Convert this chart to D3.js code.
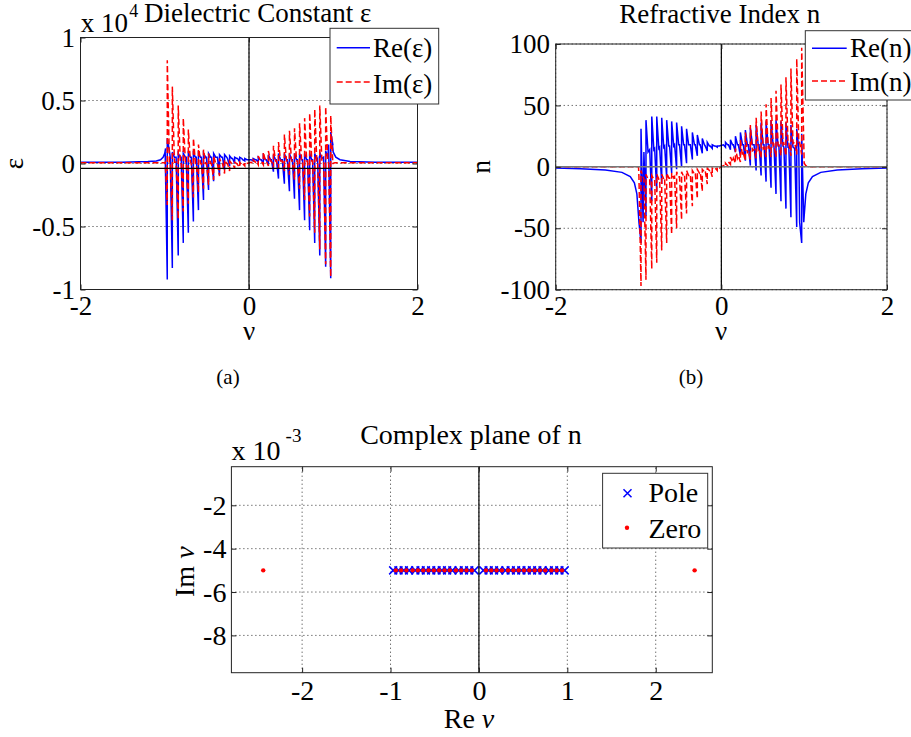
<!DOCTYPE html>
<html>
<head>
<meta charset="utf-8">
<script src="https://cdn.jsdelivr.net/npm/d3@7"></script>
<style>
  body { margin: 0; background: #fff; }
  .tx { font-family: "Liberation Serif"; }
</style>
</head>
<body>
<svg id="fig" width="911" height="737"></svg>
<script>
// ---- data ----
// resonance positions (nu) for the spikes, negative and positive side
const nuLeft  = [-0.97, -0.91, -0.84, -0.78, -0.72, -0.66, -0.60, -0.54, -0.48, -0.42, -0.35, -0.29, -0.23, -0.17, -0.11, -0.05];
const nuRight = [0.05, 0.11, 0.17, 0.23, 0.29, 0.35, 0.42, 0.48, 0.54, 0.60, 0.66, 0.72, 0.78, 0.84, 0.91, 0.97];

// (a) dielectric constant, units of 1e4
const reEpsTailLeftNu  = [-2, -1.5, -1.2, -1.1, -1.05, -1.02, -1.0, -0.99];
const reEpsTailLeft    = [0.01, 0.01, 0.015, 0.02, 0.03, 0.05, 0.08, 0.12];
const reEpsLeftHi  = [0.20, 0.09, 0.08, 0.08, 0.08, 0.08, 0.08, 0.08, 0.08, 0.08, 0.07, 0.07, 0.06, 0.05, 0.05, 0.04];
const reEpsLeftLo  = [-0.92, -0.83, -0.73, -0.63, -0.55, -0.46, -0.37, -0.29, -0.21, -0.14, -0.09, -0.05, -0.02, 0.0, 0.01, 0.02];
const reEpsLeftMid = [0.10, 0.05, 0.05, 0.05, 0.05, 0.05, 0.05, 0.05, 0.05, 0.05, 0.05, 0.05, 0.04, 0.04, 0.04, 0.03];
const reEpsRightHi  = [0.04, 0.05, 0.06, 0.07, 0.07, 0.08, 0.08, 0.08, 0.08, 0.08, 0.08, 0.08, 0.08, 0.09, 0.10, 0.25];
const reEpsRightLo  = [0.02, 0.01, 0.0, -0.01, -0.065, -0.12, -0.16, -0.22, -0.28, -0.37, -0.45, -0.53, -0.63, -0.73, -0.82, -0.91];
const reEpsRightMid = [0.03, 0.03, 0.03, 0.03, 0.03, 0.03, 0.03, 0.03, 0.03, 0.03, 0.03, 0.03, 0.03, 0.04, 0.05, 0.15];
const reEpsTailRightNu = [0.99, 1.0, 1.03, 1.08, 1.2, 1.5, 2];
const reEpsTailRight   = [0.15, 0.09, 0.05, 0.03, 0.015, 0.01, 0.01];

const imEpsTailLeftNu = [-2, -1.0];
const imEpsTailLeft   = [0.005, 0.005];
const imEpsLeftHi  = [0.82, 0.61, 0.46, 0.36, 0.27, 0.20, 0.15, 0.11, 0.08, 0.06, 0.04, 0.03, 0.02, 0.01, 0.01, 0.01];
const imEpsLeftLo  = [-0.33, -0.45, -0.44, -0.38, -0.32, -0.27, -0.23, -0.20, -0.17, -0.13, -0.10, -0.08, -0.06, -0.04, -0.03, -0.02];
const imEpsLeftMid = [0.01, 0.01, 0.01, 0.01, 0.01, 0.0, 0.0, 0.0, 0.0, 0.0, 0.0, 0.0, 0.0, 0.0, -0.01, 0.0];
const imEpsRightHi  = [0.03, 0.06, 0.09, 0.10, 0.14, 0.17, 0.23, 0.26, 0.28, 0.32, 0.36, 0.40, 0.43, 0.46, 0.45, 0.38];
const imEpsRightLo  = [0.0, -0.01, -0.01, -0.02, -0.03, -0.04, -0.06, -0.09, -0.13, -0.20, -0.29, -0.42, -0.55, -0.68, -0.80, -0.90];
const imEpsRightMid = [0.01, 0.02, 0.02, 0.02, 0.02, 0.02, 0.02, 0.02, 0.02, 0.02, 0.02, 0.02, 0.02, 0.02, 0.02, 0.0];
const imEpsTailRightNu = [0.99, 1.02, 2];
const imEpsTailRight   = [0.0, 0.005, 0.005];

const epsRefLine = -0.038; // black horizontal line in (a)

// (b) refractive index
const reNTailLeftNu = [-2, -1.7, -1.4, -1.2, -1.1, -1.05, -1.02, -1.0];
const reNTailLeft   = [-1, -1.5, -2.5, -4.5, -8, -13, -22, -40];
const reNLeftHi  = [31, 38, 41, 41, 40, 38, 37, 36, 33, 31, 28, 26, 23, 20, 18, 17];
const reNLeftLo  = [-62, -40, -28, -20, -14, -9, -5, -2, 0, 3, 6, 9, 11, 13, 15, 16];
const reNLeftMid = [-45, 12, 14, 15, 16, 17, 17, 18, 18, 18, 18, 18, 18, 17, 17, 17];
const reNRightHi  = [20, 22, 25, 28, 30, 32, 34, 36, 37, 38, 38, 37, 36, 34, 31, 27];
const reNRightLo  = [16, 14, 12, 9, 5, 1, -3, -7, -12, -17, -22, -28, -34, -41, -49, -62];
const reNRightMid = [18, 18, 18, 18, 18, 18, 18, 18, 18, 18, 17, 17, 16, 16, 15, -45];
const reNTailRightNu = [1.0, 1.02, 1.05, 1.1, 1.2, 1.4, 1.7, 2.0];
const reNTailRight   = [-40, -22, -13, -8, -4.5, -2.5, -1.5, -1];

const imNTailLeftNu = [-2, -1.0];
const imNTailLeft   = [0, 0];
const imNLeftHi  = [-3, -6, -7, -6, -6, -5, -5, -4, -4, -3, -3, -2, -2, -1, -1, 0];
const imNLeftLo  = [-97, -92, -83, -78, -68, -62, -55, -50, -43, -38, -32, -26, -20, -14, -8, -3];
const imNLeftMid = [-8, -10, -10, -10, -10, -9, -9, -8, -8, -7, -6, -5, -4, -3, -2, -1];
const imNRightHi  = [3, 8, 15, 22, 28, 34, 40, 45, 51, 56, 62, 67, 73, 80, 88, 97];
const imNRightLo  = [0, 2, 3, 4, 5, 6, 7, 7, 8, 8, 8, 9, 9, 9, 10, 10];
const imNRightMid = [1, 4, 7, 9, 11, 13, 14, 15, 16, 17, 18, 18, 19, 19, 20, 20];
const imNTailRightNu = [1.0, 1.02, 1.05, 2.0];
const imNTailRight   = [3, 1, 0, 0];

// (c) poles and zeros, Im in units of 1e-3
const poleRe = [-0.97, -0.91, -0.85, -0.79, -0.72, -0.66, -0.60, -0.54, -0.48, -0.42, -0.36, -0.30, -0.23, -0.17, -0.11, -0.05,
                0.05, 0.11, 0.17, 0.23, 0.30, 0.36, 0.42, 0.48, 0.54, 0.60, 0.66, 0.72, 0.79, 0.85, 0.91, 0.97];
const poleIm = -5;
const zeroRe = [-2.44, -0.94, -0.88, -0.82, -0.75, -0.69, -0.63, -0.57, -0.51, -0.45, -0.39, -0.33, -0.26, -0.20, -0.14, -0.08,
                0.08, 0.14, 0.20, 0.26, 0.33, 0.39, 0.45, 0.51, 0.57, 0.63, 0.69, 0.75, 0.82, 0.88, 0.94, 2.44];
const zeroIm = -5;

// ---- drawing ----
const svg = d3.select('#fig');
const BLUE = '#0000ff', RED = '#ff0000';

function pairs(nu, val) { return nu.map((v, i) => [v, val[i]]); }
function spikes(nu, lo, hi, mid) {
  const pts = [];
  nu.forEach((v, i) => {
    pts.push([v - 0.025, mid[i]], [v, lo[i]], [v, hi[i]], [v + 0.025, mid[i]]);
  });
  return pts;
}

function panel(id, x, y, xt, yt, fs, pad) {
  const [x0, x1] = x.range(), [y0, y1] = y.range();
  const g = svg.append('g');
  g.append('clipPath').attr('id', id).append('rect')
    .attr('x', x0).attr('y', y1).attr('width', x1 - x0).attr('height', y0 - y1);
  // dotted grid
  g.append('g').selectAll('line').data(yt).join('line')
    .attr('x1', x0).attr('x2', x1).attr('y1', d => y(d)).attr('y2', d => y(d))
    .attr('stroke', '#333').attr('stroke-dasharray', '1,3');
  g.append('g').selectAll('line').data(xt).join('line')
    .attr('y1', y0).attr('y2', y1).attr('x1', d => x(d)).attr('x2', d => x(d))
    .attr('stroke', '#333').attr('stroke-dasharray', '1,3');
  const plot = g.append('g').attr('clip-path', `url(#${id})`);
  const refs = g.append('g');
  const over = g.append('g');
  const fmt = d => String(d);
  const style = a => {
    a.select('.domain').remove();
    a.selectAll('line').attr('stroke', '#222');
    a.attr('font-family', null).attr('font-size', null);
    a.selectAll('text').attr('class', 'tx').style('font-family', '"Liberation Serif"')
      .style('font-size', fs + 'px').attr('fill', '#000');
  };
  over.append('g').attr('transform', `translate(0,${y0})`)
    .call(d3.axisBottom(x).tickValues(xt).tickSize(-5).tickPadding(pad[0]).tickFormat(fmt)).call(style);
  over.append('g').attr('transform', `translate(${x0},0)`)
    .call(d3.axisLeft(y).tickValues(yt).tickSize(-5).tickPadding(pad[1]).tickFormat(fmt)).call(style);
  over.append('g').attr('transform', `translate(0,${y1})`)
    .call(d3.axisTop(x).tickValues(xt).tickSize(-5).tickFormat('')).call(style);
  over.append('g').attr('transform', `translate(${x1},0)`)
    .call(d3.axisRight(y).tickValues(yt).tickSize(-5).tickFormat('')).call(style);
  over.append('rect').attr('x', x0).attr('y', y1).attr('width', x1 - x0).attr('height', y0 - y1)
    .attr('fill', 'none').attr('stroke', '#222');
  return { plot, refs, over };
}

function curve(target, x, y, pts, color, dashed) {
  const line = d3.line().x(d => x(d[0])).y(d => y(d[1]));
  target.append('path').datum(pts).attr('d', line)
    .attr('fill', 'none').attr('stroke', color).attr('stroke-width', 1.5)
    .attr('stroke-dasharray', dashed ? '6,3' : null);
}

function text(x, y, s, fs, anchor, rot, parent) {
  const t = (parent || svg).append('text').attr('class', 'tx')
    .attr('x', x).attr('y', y)
    .style('font-family', '"Liberation Serif"').style('font-size', fs + 'px')
    .attr('fill', '#000').attr('text-anchor', anchor || 'start').text(s);
  if (rot) t.attr('transform', `rotate(${rot},${x},${y})`);
  return t;
}

function cross(cx, cy, s) {
  return `M${cx - s},${cy - s}L${cx + s},${cy + s}M${cx - s},${cy + s}L${cx + s},${cy - s}`;
}

function legend(box, items, fs) {
  const g = svg.append('g');
  g.append('rect').attr('x', box[0]).attr('y', box[1]).attr('width', box[2]).attr('height', box[3])
    .attr('fill', '#fff').attr('stroke', '#333');
  items.forEach(it => {
    if (it.type === 'line') {
      g.append('line').attr('x1', it.x1).attr('x2', it.x2).attr('y1', it.y).attr('y2', it.y)
        .attr('stroke', it.color).attr('stroke-width', 1.5).attr('stroke-dasharray', it.dashed ? '6,3' : null);
    } else if (it.type === 'cross') {
      g.append('path').attr('d', cross(it.x, it.y, 4)).attr('stroke', it.color).attr('stroke-width', 1.5);
    } else {
      g.append('circle').attr('cx', it.x).attr('cy', it.y).attr('r', 2.2).attr('fill', it.color);
    }
    text(it.tx, it.ty, it.label, fs, 'start', 0, g);
  });
}

// ---- panel (a) ----
{
  const x = d3.scaleLinear().domain([-2, 2]).range([80.5, 417.5]);
  const y = d3.scaleLinear().domain([-1, 1]).range([289.5, 37.5]);
  const p = panel('clipA', x, y, [-2, 0, 2], [-1, -0.5, 0, 0.5, 1], 27, [6, 5.5]);
  const re = [].concat(pairs(reEpsTailLeftNu, reEpsTailLeft),
    spikes(nuLeft, reEpsLeftLo, reEpsLeftHi, reEpsLeftMid),
    spikes(nuRight, reEpsRightLo, reEpsRightHi, reEpsRightMid),
    pairs(reEpsTailRightNu, reEpsTailRight));
  const im = [].concat(pairs(imEpsTailLeftNu, imEpsTailLeft),
    spikes(nuLeft, imEpsLeftLo, imEpsLeftHi, imEpsLeftMid),
    spikes(nuRight, imEpsRightLo, imEpsRightHi, imEpsRightMid),
    pairs(imEpsTailRightNu, imEpsTailRight));
  curve(p.plot, x, y, re, BLUE, false);
  curve(p.plot, x, y, im, RED, true);
  p.refs.append('line').attr('x1', x(-2)).attr('x2', x(2)).attr('y1', y(epsRefLine)).attr('y2', y(epsRefLine))
    .attr('stroke', '#000').attr('stroke-width', 1.2);
  p.refs.append('line').attr('x1', x(0)).attr('x2', x(0)).attr('y1', y(-1)).attr('y2', y(1))
    .attr('stroke', '#000').attr('stroke-width', 1.2);

  text(80.7, 31.7, 'x 10', 27);
  text(129.3, 16.7, '4', 18);
  text(144, 21.7, 'Dielectric Constant ε', 27);
  text(23.3, 163.5, 'ε', 27, 'middle', -90);
  text(249, 340, 'ν', 27, 'middle');
  text(228, 384, '(a)', 21, 'middle');
  legend([330, 28.3, 108.7, 75.7], [
    { type: 'line', x1: 336.7, x2: 370, y: 47.7, color: BLUE, tx: 373, ty: 57.3, label: 'Re(ε)' },
    { type: 'line', x1: 336.7, x2: 370, y: 82, color: RED, dashed: true, tx: 373, ty: 92.7, label: 'Im(ε)' }
  ], 27);
}

// ---- panel (b) ----
{
  const x = d3.scaleLinear().domain([-2, 2]).range([555.7, 887]);
  const y = d3.scaleLinear().domain([-100, 100]).range([289.7, 44]);
  const p = panel('clipB', x, y, [-2, 0, 2], [-100, -50, 0, 50, 100], 27, [6, 5.7]);
  const re = [].concat(pairs(reNTailLeftNu, reNTailLeft),
    spikes(nuLeft, reNLeftLo, reNLeftHi, reNLeftMid),
    spikes(nuRight, reNRightLo, reNRightHi, reNRightMid),
    pairs(reNTailRightNu, reNTailRight));
  const im = [].concat(pairs(imNTailLeftNu, imNTailLeft),
    spikes(nuLeft, imNLeftLo, imNLeftHi, imNLeftMid),
    spikes(nuRight, imNRightLo, imNRightHi, imNRightMid),
    pairs(imNTailRightNu, imNTailRight));
  curve(p.plot, x, y, re, BLUE, false);
  curve(p.plot, x, y, im, RED, true);
  p.refs.append('line').attr('x1', x(-2)).attr('x2', x(2)).attr('y1', y(0)).attr('y2', y(0))
    .attr('stroke', '#777').attr('stroke-width', 1.5);
  p.refs.append('line').attr('x1', x(0)).attr('x2', x(0)).attr('y1', y(-100)).attr('y2', y(100))
    .attr('stroke', '#000').attr('stroke-width', 1.2);

  text(719.7, 22.7, 'Refractive Index n', 27, 'middle');
  text(490, 166.7, 'n', 27, 'middle', -90);
  text(721, 340, 'ν', 27, 'middle');
  text(691, 384, '(b)', 21, 'middle');
  legend([805.3, 30.7, 110, 69.3], [
    { type: 'line', x1: 812, x2: 846.7, y: 48.3, color: BLUE, tx: 850, ty: 56.7, label: 'Re(n)' },
    { type: 'line', x1: 812, x2: 846.7, y: 81, color: RED, dashed: true, tx: 850, ty: 90.7, label: 'Im(n)' }
  ], 27);
}

// ---- panel (c) ----
{
  const x = d3.scaleLinear().domain([-2.8, 2.64]).range([231.4, 712.3]);
  const y = d3.scaleLinear().domain([-9.72, -0.22]).range([672.7, 466.7]);
  const p = panel('clipC', x, y, [-2, -1, 0, 1, 2], [-8, -6, -4, -2], 28, [7.4, 5]);
  p.refs.append('line').attr('x1', x(0)).attr('x2', x(0)).attr('y1', y(-9.72)).attr('y2', y(-0.22))
    .attr('stroke', '#000').attr('stroke-width', 1.2);
  p.plot.append('g').selectAll('path').data(poleRe).join('path')
    .attr('d', d => cross(x(d), y(poleIm), 4))
    .attr('stroke', BLUE).attr('stroke-width', 1.5).attr('fill', 'none');
  p.plot.append('g').selectAll('circle').data(zeroRe).join('circle')
    .attr('cx', d => x(d)).attr('cy', y(zeroIm)).attr('r', 2.2).attr('fill', RED);

  text(471, 444, 'Complex plane of n', 28, 'middle');
  text(231.4, 460, 'x 10', 28);
  text(285.6, 442, '-3', 19);
  const tx = text(469, 728.3, 'Re ', 28, 'middle');
  tx.append('tspan').style('font-style', 'italic').text('ν');
  const ty = text(194, 571.7, 'Im ', 28, 'middle', -90);
  ty.append('tspan').style('font-style', 'italic').text('ν');
  legend([602.6, 473.3, 105.1, 74.7], [
    { type: 'cross', x: 627.5, y: 493.3, color: BLUE, tx: 648.5, ty: 501.7, label: 'Pole' },
    { type: 'dot', x: 627, y: 527.7, color: RED, tx: 648.5, ty: 538, label: 'Zero' }
  ], 28);
}
</script>
</body>
</html>
